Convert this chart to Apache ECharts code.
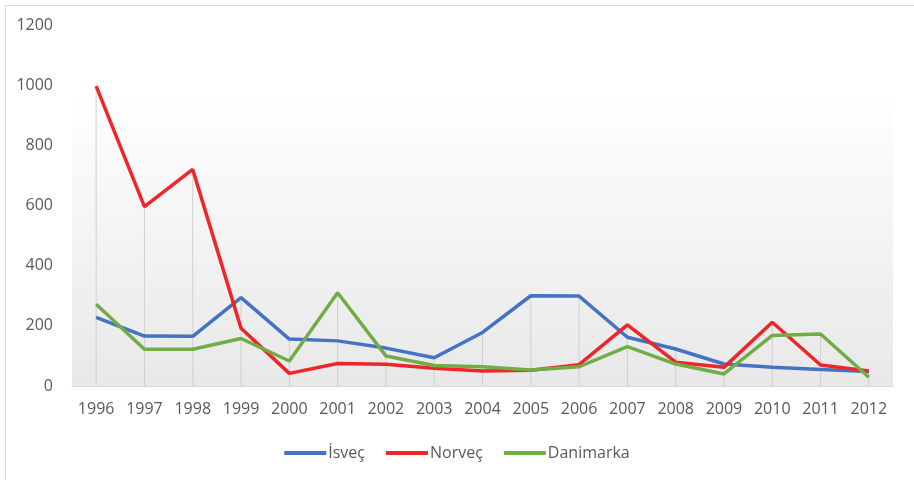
<!DOCTYPE html>
<html>
<head>
<meta charset="utf-8">
<script src="https://cdn.jsdelivr.net/npm/echarts@6/dist/echarts.min.js"></script>
<style>html,body{margin:0;padding:0;background:#fff}#c{width:914px;height:480px}</style>
</head>
<body>
<div id="c"></div>
<script>
const years = ['1996','1997','1998','1999','2000','2001','2002','2003','2004','2005','2006','2007','2008','2009','2010','2011','2012'];
const isvec = [228,166,165,294,156,150,126,94,178,300,299,162,123,73,62,55,48];
const norvec = [997,596,720,192,42,75,72,59,50,52,71,203,79,62,212,70,50];
const danimarka = [272,122,122,158,83,310,100,68,64,53,64,131,73,40,168,173,29];
const yTicks = [0,200,400,600,800,1000,1200];

const dropTops = years.map((y,i)=>Math.max(isvec[i],norvec[i],danimarka[i]));
const font = '"Open Sans", "Noto Sans", sans-serif';

const chart = echarts.init(document.getElementById('c'), null, {renderer:'canvas'});
chart.setOption({
  animation:false,
  backgroundColor:'#fff',
  graphic:[{type:'rect',left:3,top:3,shape:{width:930,height:490},style:{fill:'none',stroke:'#d9d9d9',lineWidth:1},silent:true,z:-1}],
  grid:{left:72,right:21,top:25,bottom:94,show:true,borderWidth:0,
    backgroundColor:new echarts.graphic.LinearGradient(0,0,0,1,[
      {offset:0,color:'#ffffff'},{offset:0.17,color:'#ffffff'},{offset:1,color:'#e8e8e8'}])},
  legend:{bottom:14,left:'center',itemWidth:42,itemHeight:4,itemGap:21,icon:'rect',
    textStyle:{fontFamily:font,fontSize:16,color:'#595959',padding:[0,0,0,-3]},
    data:['İsveç','Norveç','Danimarka']},
  xAxis:{type:'category',data:years,boundaryGap:true,
    axisLine:{lineStyle:{color:'#d9d9d9',width:1}},axisTick:{show:false},
    axisLabel:{fontFamily:font,fontSize:16,color:'#595959',margin:15},
    splitLine:{show:false}},
  yAxis:{type:'value',min:yTicks[0],max:yTicks[yTicks.length-1],interval:200,
    axisLine:{show:false},axisTick:{show:false},splitLine:{show:false},
    axisLabel:{fontFamily:font,fontSize:16,color:'#595959',margin:19,formatter:v=>String(v)}},
  series:[
    {type:'custom',name:'drop',silent:true,z:1,data:dropTops.map((v,i)=>[i,v]),
      renderItem:function(params,api){
        const top=api.coord([api.value(0),api.value(1)]);
        const bot=api.coord([api.value(0),0]);
        return {type:'line',shape:{x1:top[0],y1:top[1],x2:bot[0],y2:bot[1]},style:{stroke:'#d0d0d0',lineWidth:1}};
      }},
    {type:'line',name:'İsveç',data:isvec,symbol:'none',z:3,lineStyle:{color:'#4472c4',width:3.5},itemStyle:{color:'#4472c4'}},
    {type:'line',name:'Norveç',data:norvec,symbol:'none',z:3,lineStyle:{color:'#ee2529',width:3.5},itemStyle:{color:'#ee2529'}},
    {type:'line',name:'Danimarka',data:danimarka,symbol:'none',z:3,lineStyle:{color:'#70ad47',width:3.5},itemStyle:{color:'#70ad47'}}
  ]
});
</script>
</body>
</html>
